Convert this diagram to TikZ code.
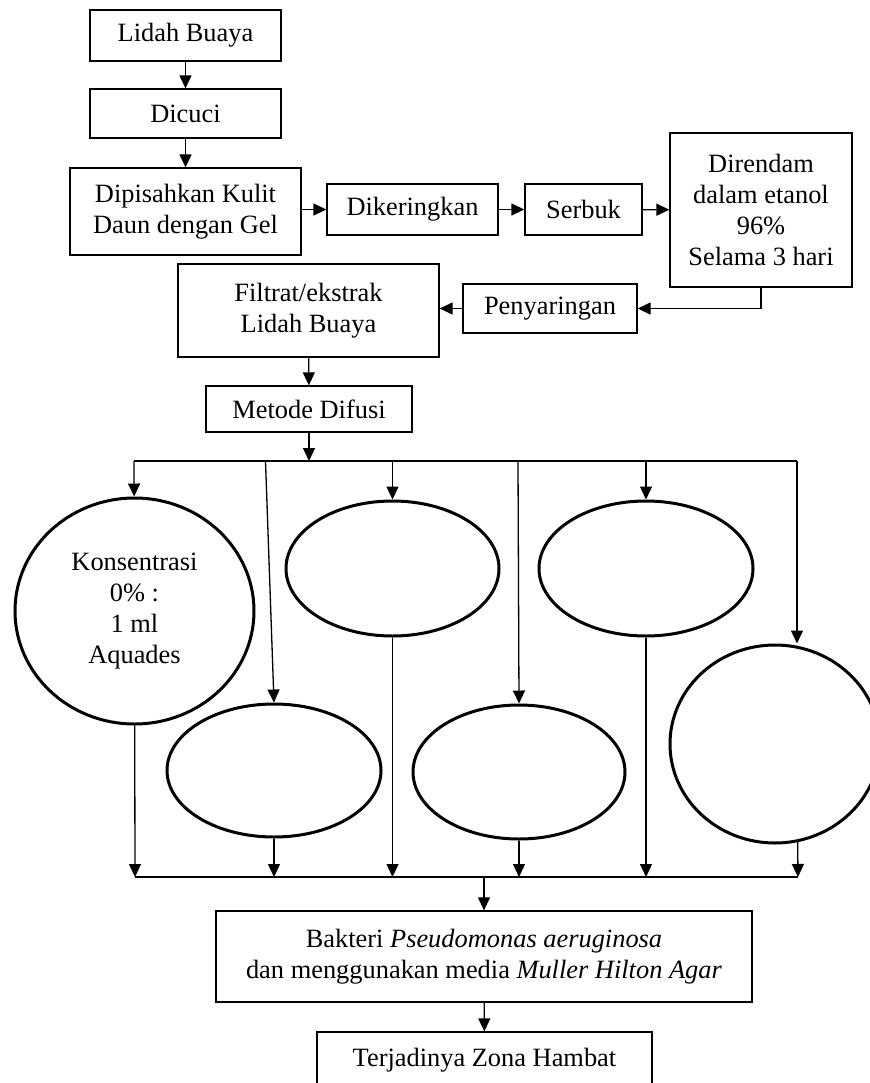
\documentclass[tikz,border=0pt]{standalone}
\usepackage{fontspec}
\setmainfont{Liberation Serif}
\usetikzlibrary{shapes.geometric,arrows.meta}
\tikzstyle{box} = [draw, line width=0.65pt, align=center, inner sep=0pt, font=\fontsize{13.2}{15.5}\selectfont]
\tikzstyle{oval} = [draw, ellipse, line width=1.5pt, align=center, inner sep=0pt, font=\fontsize{13.2}{15.5}\selectfont]

\begin{document}
\begin{tikzpicture}[x=0.5pt, y=-0.5pt, line width=0.65pt, >={Triangle[length=6.5pt,width=6pt]}]
  \useasboundingbox (0,0) rectangle (869,1083);

  \node (a) at (185.5,35.5) [box, minimum width=95.5pt, minimum height=25.5pt] {Lidah Buaya};
  \node (b) at (185.5,113.5) [box, minimum width=95.5pt, minimum height=24.5pt] {Dicuci};
  \node (c) at (185.5,211.5) [box, minimum width=115.5pt, minimum height=43.5pt] {Dipisahkan Kulit\\Daun dengan Gel};
  \node (d) at (412.5,209.5) [box, minimum width=85.5pt, minimum height=25.5pt] {Dikeringkan};
  \node (e) at (583.5,209.5) [box, minimum width=58.5pt, minimum height=25.5pt] {Serbuk};
  \node (f) at (761,210) [box, minimum width=91pt, minimum height=77pt] {Direndam\\dalam etanol\\96\%\\Selama 3 hari};
  \node (g) at (550,308.5) [box, minimum width=87pt, minimum height=24.5pt] {Penyaringan};
  \node (h) at (308.5,310.5) [box, minimum width=130.5pt, minimum height=46.5pt] {Filtrat/ekstrak\\Lidah Buaya};
  \node (i) at (309,409) [box, minimum width=103pt, minimum height=23pt] {Metode Difusi};

  \node (j) at (134.5,611) [oval, minimum width=119.5pt, minimum height=113pt] {Konsentrasi\\0\% :\\1 ml\\Aquades};
  \node (k) at (274,770.5) [oval, minimum width=107pt, minimum height=66.5pt] {};
  \node (l) at (392.5,568.5) [oval, minimum width=106.5pt, minimum height=67.5pt] {};
  \node (m) at (519,772) [oval, minimum width=106pt, minimum height=67pt] {};
  \node (n) at (646,568.5) [oval, minimum width=107pt, minimum height=67.5pt] {};
  \node (o) at (775,744) [oval, minimum width=105pt, minimum height=99pt] {};

  \node (p) at (484,956.5) [box, minimum width=268pt, minimum height=45.5pt] {Bakteri \textit{Pseudomonas aeruginosa}\\dan menggunakan media \textit{Muller Hilton Agar}};
  \node (q) at (484.5,1060) [box, minimum width=167.5pt, minimum height=28pt] {Terjadinya Zona Hambat};

  % upper chain
  \draw [->] (a) -- (b);
  \draw [->] (b) -- (c);
  \draw [->] (c.east |- d) -- (d);
  \draw [->] (d) -- (e);
  \draw [->] (e) -- (f);
  \draw [->] (f.south) |- (g);
  \draw [->] (g.west) -- (g.west -| h.east);
  \draw [->] (h) -- (i);

  % split
  \coordinate (t1) at (134,461);
  \coordinate (t2) at (265.5,461);
  \coordinate (t3) at (392.5,461);
  \coordinate (t4) at (518,461);
  \coordinate (t5) at (646,461);
  \coordinate (t6) at (797,461);
  \draw [->] (i) -- (i |- t1);
  \draw (t1) -- (t6);
  \draw [->] (t1) -- (j);
  \draw [->] (t2) -- (k.north);
  \draw [->] (t3) -- (l);
  \draw [->] (t4) -- (m.north);
  \draw [->] (t5) -- (n);
  \draw [->] (t6) -- (t6 |- o.north);

  % join
  \coordinate (u1) at (135,877);
  \coordinate (u6) at (798,877);
  \draw (u1) -- (u6);
  \draw [->] (j) -- (u1);
  \draw [->] (k) -- (k |- u1);
  \draw [->] (l) -- (l |- u1);
  \draw [->] (m) -- (m |- u1);
  \draw [->] (n) -- (n |- u1);
  \draw [->] (o.-77) -- (u6);
  \draw [->] (p |- u1) -- (p);
  \draw [->] (p) -- (q);
\end{tikzpicture}
\end{document}
